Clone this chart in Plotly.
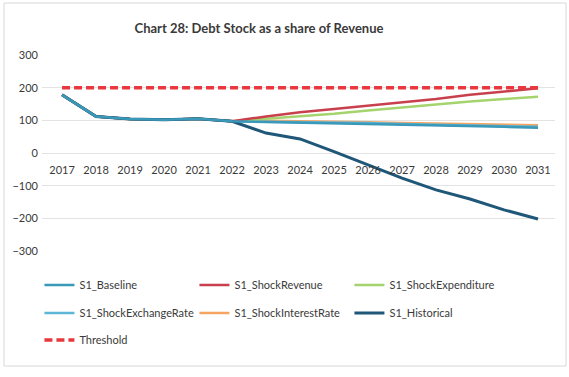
import plotly.graph_objects as go

years = list(range(2017, 2032))

s1_baseline = [178, 112, 104, 102, 105, 97, 95, 93, 92, 90, 87, 85, 83, 80, 77]
s1_shock_revenue = [178, 112, 104, 102, 105, 97, 112, 125, 135, 145, 155, 165, 178, 188, 198]
s1_shock_expenditure = [178, 112, 104, 102, 105, 97, 105, 112, 120, 130, 140, 150, 158, 165, 172]
s1_shock_exchange_rate = [178, 112, 104, 102, 105, 97, 96, 95, 94, 92, 89, 87, 85, 82, 80]
s1_shock_interest_rate = [178, 112, 104, 102, 105, 97, 99, 98, 96, 94, 92, 90, 88, 86, 85]
s1_historical = [178, 112, 104, 102, 105, 97, 61, 43, 4, -37, -77, -113, -141, -174, -202]
threshold = [200] * 15

y_ticks = [300, 200, 100, 0, -100, -200, -300]

FONT = "Lato, 'Open Sans', sans-serif"
TEXT = "#3a3a3a"

series = [
    ("S1_Baseline", s1_baseline, "#3a98b9", 2.5, "solid", "legend"),
    ("S1_ShockRevenue", s1_shock_revenue, "#c8404d", 2.5, "solid", "legend"),
    ("S1_ShockExpenditure", s1_shock_expenditure, "#a5d46e", 2.5, "solid", "legend"),
    ("S1_ShockExchangeRate", s1_shock_exchange_rate, "#5db6d6", 2.5, "solid", "legend2"),
    ("S1_ShockInterestRate", s1_shock_interest_rate, "#f5a561", 2.5, "solid", "legend2"),
    ("S1_Historical", s1_historical, "#1f5778", 3, "solid", "legend2"),
    ("Threshold", threshold, "#e8383d", 3.5, "8px,4px", "legend3"),
]

fig = go.Figure()
# draw order: shocks first, historical over them, baseline on top of the shared history
order = [4, 3, 2, 1, 5, 0, 6]
for i in order:
    name, vals, color, width, dash, leg = series[i]
    fig.add_trace(go.Scatter(
        x=years, y=vals, name=name, mode="lines",
        line=dict(color=color, width=width, dash=dash),
        legend=leg, legendrank=i + 1,
    ))

legend_common = dict(
    orientation="h", xanchor="left", yanchor="middle", x=-0.005,
    font=dict(family=FONT, size=11, color=TEXT),
    entrywidth=110, entrywidthmode="pixels",
    traceorder="normal", bgcolor="rgba(0,0,0,0)",
)

fig.update_layout(
    width=569, height=377,
    margin=dict(l=42, r=14, t=55, b=126),
    paper_bgcolor="white", plot_bgcolor="white",
    title=dict(
        text="<b>Chart 28: Debt Stock as a share of Revenue</b>",
        x=259 / 569, xanchor="center", y=1 - 28 / 377, yanchor="middle",
        font=dict(family=FONT, size=13, color=TEXT),
    ),
    xaxis=dict(
        range=[2016.41, 2031.5], tickvals=years, ticktext=[str(y) for y in years],
        showgrid=False, zeroline=False, showline=False,
        anchor="free", position=0.5, ticks="", ticklabelstandoff=9,
        tickfont=dict(family=FONT, size=11, color=TEXT),
    ),
    yaxis=dict(
        range=[-300, 300], tickvals=y_ticks,
        showgrid=True, gridcolor="#e3e3e3", gridwidth=1,
        zeroline=False, showline=False, ticks="", ticklabelstandoff=3,
        tickfont=dict(family=FONT, size=11, color=TEXT),
    ),
    legend=dict(legend_common, y=(251 - 285) / 196),
    legend2=dict(legend_common, y=(251 - 313) / 196),
    legend3=dict(legend_common, y=(251 - 340) / 196),
    shapes=[dict(
        type="rect", xref="paper", yref="paper",
        x0=-38 / 513, x1=(566 - 42) / 513, y0=(251 - 366) / 196, y1=(251 - 3) / 196,
        line=dict(color="#d8d8d8", width=1), fillcolor="rgba(0,0,0,0)", layer="below",
    )],
)

fig.write_html("out.html")
